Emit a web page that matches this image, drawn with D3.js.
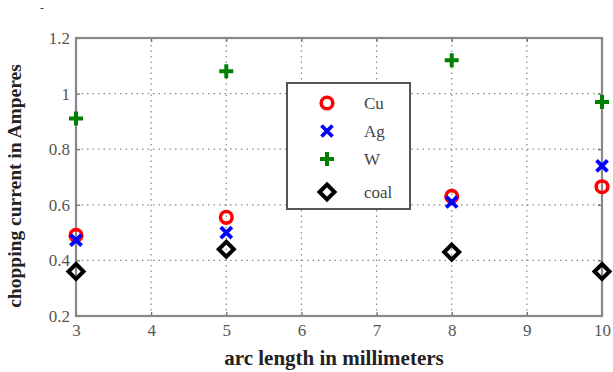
<!DOCTYPE html>
<html><head><meta charset="utf-8">
<script src="https://cdn.jsdelivr.net/npm/d3@7"></script>
<style>body{margin:0;background:#fff}svg{display:block}</style>
</head><body>
<script>
const arcLength = [3, 5, 8, 10];
const Cu   = [0.49, 0.555, 0.63, 0.665];
const Ag   = [0.473, 0.50, 0.61, 0.74];
const W    = [0.91, 1.08, 1.12, 0.97];
const coal = [0.36, 0.44, 0.43, 0.36];
const xTicks = [3,4,5,6,7,8,9,10];
const yTicks = [0.2,0.4,0.6,0.8,1,1.2];
const seriesNames = ["Cu","Ag","W","coal"];
const seriesData = [Cu, Ag, W, coal];
const seriesColors = ["#ff0000","#0000ff","#008000","#000000"];
const seriesShapes = ["circle","x","plus","diamond"];

const width = 613, height = 372;
const m = {left:76, right:11, top:38, bottom:56};
const svg = d3.select("body").append("svg").attr("width",width).attr("height",height);
const x = d3.scaleLinear().domain([3,10]).range([m.left, width-m.right]);
const y = d3.scaleLinear().domain([0.2,1.2]).range([height-m.bottom, m.top]);

// grid
svg.append("g").selectAll("line").data(xTicks.slice(1,-1)).join("line")
  .attr("x1",d=>x(d)).attr("x2",d=>x(d)).attr("y1",y(0.2)).attr("y2",y(1.2))
  .attr("stroke","#888").attr("stroke-width",1.2).attr("stroke-dasharray","1.5,4");
svg.append("g").selectAll("line").data(yTicks.slice(1,-1)).join("line")
  .attr("y1",d=>y(d)).attr("y2",d=>y(d)).attr("x1",x(3)).attr("x2",x(10))
  .attr("stroke","#888").attr("stroke-width",1.2).attr("stroke-dasharray","1.5,4");

// axes
const fontTick = "'Liberation Serif', serif";
const xa = svg.append("g").attr("transform",`translate(0,${y(0.2)})`)
  .call(d3.axisBottom(x).tickValues(xTicks).tickFormat(d3.format("d")).tickSize(-4).tickPadding(8));
const ya = svg.append("g").attr("transform",`translate(${x(3)},0)`)
  .call(d3.axisLeft(y).tickValues(yTicks).tickFormat(d=>d===1?"1":d3.format(".1f")(d)).tickSize(-4).tickPadding(6));
const xa2 = svg.append("g").attr("transform",`translate(0,${y(1.2)})`)
  .call(d3.axisTop(x).tickValues(xTicks).tickFormat("").tickSize(-4));
const ya2 = svg.append("g").attr("transform",`translate(${x(10)},0)`)
  .call(d3.axisRight(y).tickValues(yTicks).tickFormat("").tickSize(-4));
[xa,ya,xa2,ya2].forEach(g=>{
  g.select(".domain").remove();
  g.selectAll(".tick line").attr("stroke","#666").attr("stroke-width",1.2);
  g.selectAll(".tick text").attr("font-family",fontTick).attr("font-size",17).attr("fill","#555");
});
svg.append("rect").attr("x",x(3)).attr("y",y(1.2)).attr("width",x(10)-x(3)).attr("height",y(0.2)-y(1.2))
  .attr("fill","none").attr("stroke","#888").attr("stroke-width",2.2);

// markers
function drawMarker(g, shape, color, cx, cy){
  if(shape==="circle"){
    g.append("circle").attr("cx",cx).attr("cy",cy).attr("r",5.8).attr("fill","none").attr("stroke",color).attr("stroke-width",3.6);
  } else if(shape==="x"){
    const s=5.5;
    g.append("path").attr("d",`M${cx-s},${cy-s}L${cx+s},${cy+s}M${cx-s},${cy+s}L${cx+s},${cy-s}`).attr("stroke",color).attr("stroke-width",3.8).attr("fill","none");
  } else if(shape==="plus"){
    const s=7;
    g.append("path").attr("d",`M${cx-s},${cy}L${cx+s},${cy}M${cx},${cy-s}L${cx},${cy+s}`).attr("stroke",color).attr("stroke-width",4).attr("fill","none");
  } else {
    const s=7.5;
    g.append("path").attr("d",`M${cx},${cy-s}L${cx+s},${cy}L${cx},${cy+s}L${cx-s},${cy}Z`).attr("stroke",color).attr("stroke-width",4).attr("fill","none");
  }
}
const mg = svg.append("g");
[3,2,0,1].forEach(si=>{
  seriesData[si].forEach((v,i)=>drawMarker(mg, seriesShapes[si], seriesColors[si], x(arcLength[i]), y(v)));
});

// legend
const lg = svg.append("g");
lg.append("rect").attr("x",287).attr("y",83).attr("width",123).attr("height",126)
  .attr("fill","#fff").attr("stroke","#555").attr("stroke-width",2);
const rowsY = [103,131,159,192];
seriesNames.forEach((n,i)=>{
  drawMarker(lg, seriesShapes[i], seriesColors[i], 327, rowsY[i]);
  lg.append("text").attr("x",364).attr("y",rowsY[i]+6).text(n)
    .attr("font-family",fontTick).attr("font-size",17).attr("fill","#444");
});

// labels
svg.append("text").attr("x",334).attr("y",365).attr("text-anchor","middle")
  .attr("font-family",fontTick).attr("font-weight","bold").attr("font-size",21).attr("fill","#222")
  .text("arc length in millimeters");
svg.append("text").attr("transform",`translate(21,186) rotate(-90)`).attr("text-anchor","middle")
  .attr("font-family",fontTick).attr("font-weight","bold").attr("font-size",19.5).attr("fill","#222")
  .text("chopping current in Amperes");
svg.append("text").attr("x",40).attr("y",12).attr("font-family",fontTick).attr("font-size",12).attr("fill","#444").text("-");
</script>
</body></html>
